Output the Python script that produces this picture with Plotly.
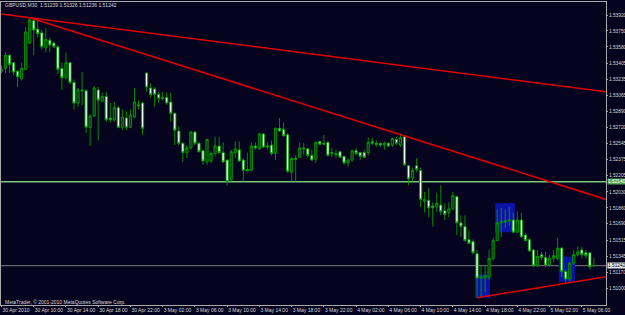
import plotly.graph_objects as go

# ---------------- data ----------------
symbol_header = "GBPUSD,M30  1.51239 1.51326 1.51236 1.51242"
copyright_text = "MetaTrader, \u00a9 2001-2010 MetaQuotes Software Corp."

opens = [
    1.5332, 1.5335, 1.5349, 1.5341, 1.5332, 1.5324, 1.5334, 1.5362, 1.5386, 1.5377,
    1.5373, 1.5357, 1.5365, 1.5362, 1.5358, 1.5335, 1.5325, 1.5341, 1.5320, 1.5298,
    1.5312, 1.5311, 1.5272, 1.5284, 1.5312, 1.5300, 1.5305, 1.5282, 1.5280, 1.5293,
    1.5272, 1.5282, 1.5272, 1.5283, 1.5296, 1.5298, 1.5330, 1.5314, 1.5313, 1.5307,
    1.5304, 1.5304, 1.5299, 1.5287, 1.5268, 1.5255, 1.5245, 1.5250, 1.5267, 1.5255,
    1.5247, 1.5235, 1.5236, 1.5244, 1.5252, 1.5245, 1.5237, 1.5216, 1.5245, 1.5248,
    1.5237, 1.5227, 1.5226, 1.5252, 1.5249, 1.5265, 1.5252, 1.5253, 1.5244, 1.5271,
    1.5270, 1.5264, 1.5224, 1.5239, 1.5240, 1.5250, 1.5249, 1.5242, 1.5238, 1.5257,
    1.5255, 1.5256, 1.5245, 1.5244, 1.5246, 1.5241, 1.5234, 1.5237, 1.5247, 1.5245,
    1.5245, 1.5245, 1.5257, 1.5255, 1.5255, 1.5253, 1.5255, 1.5253, 1.5259, 1.5253,
    1.5262, 1.5231, 1.5218, 1.5231, 1.5226, 1.5193, 1.5194, 1.5188, 1.5187, 1.5189,
    1.5183, 1.5181, 1.5185, 1.5198, 1.5170, 1.5166, 1.5152, 1.5150, 1.5137, 1.5111,
    1.5111, 1.5112, 1.5132, 1.5151, 1.5170, 1.5171, 1.5172, 1.5173, 1.5160, 1.5173,
    1.5157, 1.5152, 1.5141, 1.5124, 1.5136, 1.5133, 1.5125, 1.5132, 1.5132, 1.5143,
    1.5118, 1.5110, 1.5127, 1.5136, 1.5141, 1.5138, 1.5138, 1.51239,
]
highs = [
    1.5338, 1.5352, 1.5350, 1.5342, 1.5333, 1.5341, 1.5379, 1.5389, 1.5388, 1.5386,
    1.5376, 1.5378, 1.5368, 1.5364, 1.5360, 1.5341, 1.5352, 1.5342, 1.5323, 1.5314,
    1.5331, 1.5313, 1.5286, 1.5316, 1.5315, 1.5309, 1.5310, 1.5298, 1.5299, 1.5295,
    1.5291, 1.5289, 1.5291, 1.5314, 1.5301, 1.5299, 1.5331, 1.5319, 1.5315, 1.5310,
    1.5310, 1.5309, 1.5309, 1.5288, 1.5273, 1.5256, 1.5253, 1.5268, 1.5268, 1.5256,
    1.5248, 1.5260, 1.5246, 1.5262, 1.5262, 1.5256, 1.5238, 1.5248, 1.5257, 1.5257,
    1.5239, 1.5245, 1.5256, 1.5256, 1.5266, 1.5266, 1.5256, 1.5258, 1.5272, 1.5282,
    1.5277, 1.5266, 1.5240, 1.5242, 1.5256, 1.5255, 1.5250, 1.5248, 1.5257, 1.5258,
    1.5264, 1.5257, 1.5250, 1.5248, 1.5247, 1.5242, 1.5239, 1.5248, 1.5250, 1.5246,
    1.5248, 1.5261, 1.5261, 1.5258, 1.5256, 1.5257, 1.5256, 1.5261, 1.5262, 1.5264,
    1.5263, 1.5232, 1.5229, 1.5239, 1.5229, 1.5203, 1.5207, 1.5192, 1.5202, 1.5210,
    1.5191, 1.5192, 1.5203, 1.5199, 1.5178, 1.5178, 1.5162, 1.5152, 1.5141, 1.5125,
    1.5125, 1.5141, 1.5154, 1.5184, 1.5186, 1.5184, 1.5187, 1.5181, 1.5182, 1.5181,
    1.5159, 1.5154, 1.5142, 1.5141, 1.5139, 1.5139, 1.5136, 1.5141, 1.5154, 1.5144,
    1.5120, 1.5128, 1.5141, 1.5145, 1.5144, 1.5141, 1.5139, 1.51326,
]
lows = [
    1.5330, 1.5330, 1.5330, 1.5328, 1.5315, 1.5322, 1.5333, 1.5361, 1.5349, 1.5368,
    1.5355, 1.5352, 1.5352, 1.5357, 1.5329, 1.5312, 1.5323, 1.5318, 1.5291, 1.5294,
    1.5296, 1.5266, 1.5252, 1.5283, 1.5258, 1.5299, 1.5278, 1.5277, 1.5278, 1.5271,
    1.5269, 1.5269, 1.5271, 1.5282, 1.5291, 1.5264, 1.5310, 1.5304, 1.5294, 1.5298,
    1.5301, 1.5296, 1.5278, 1.5253, 1.5253, 1.5235, 1.5239, 1.5248, 1.5253, 1.5245,
    1.5232, 1.5232, 1.5234, 1.5241, 1.5243, 1.5234, 1.5210, 1.5214, 1.5239, 1.5235,
    1.5214, 1.5224, 1.5225, 1.5248, 1.5248, 1.5250, 1.5248, 1.5242, 1.5237, 1.5267,
    1.5262, 1.5223, 1.5214, 1.5214, 1.5239, 1.5242, 1.5240, 1.5236, 1.5234, 1.5253,
    1.5253, 1.5241, 1.5240, 1.5239, 1.5239, 1.5232, 1.5230, 1.5235, 1.5242, 1.5237,
    1.5239, 1.5242, 1.5253, 1.5251, 1.5251, 1.5248, 1.5251, 1.5251, 1.5253, 1.5251,
    1.5231, 1.5210, 1.5214, 1.5224, 1.5187, 1.5181, 1.5176, 1.5166, 1.5182, 1.5178,
    1.5173, 1.5176, 1.5184, 1.5157, 1.5155, 1.5150, 1.5147, 1.5136, 1.5090, 1.5090,
    1.5096, 1.5109, 1.5130, 1.5150, 1.5155, 1.5165, 1.5167, 1.5159, 1.5159, 1.5154,
    1.5150, 1.5139, 1.5123, 1.5123, 1.5130, 1.5123, 1.5123, 1.5128, 1.5130, 1.5112,
    1.5106, 1.5107, 1.5125, 1.5134, 1.5132, 1.5132, 1.5120, 1.51236,
]
closes = [
    1.5334, 1.5349, 1.5339, 1.5331, 1.5326, 1.5335, 1.5374, 1.5387, 1.5376, 1.5372,
    1.5358, 1.5366, 1.5360, 1.5358, 1.5334, 1.5325, 1.5341, 1.5320, 1.5298, 1.5312,
    1.5311, 1.5272, 1.5284, 1.5314, 1.5301, 1.5305, 1.5280, 1.5280, 1.5293, 1.5272,
    1.5283, 1.5272, 1.5285, 1.5299, 1.5295, 1.5271, 1.5315, 1.5307, 1.5307, 1.5303,
    1.5303, 1.5298, 1.5287, 1.5269, 1.5255, 1.5245, 1.5250, 1.5267, 1.5255, 1.5246,
    1.5236, 1.5259, 1.5244, 1.5252, 1.5245, 1.5235, 1.5214, 1.5246, 1.5249, 1.5236,
    1.5226, 1.5226, 1.5252, 1.5250, 1.5265, 1.5251, 1.5251, 1.5244, 1.5271, 1.5268,
    1.5263, 1.5225, 1.5239, 1.5238, 1.5250, 1.5249, 1.5242, 1.5237, 1.5256, 1.5254,
    1.5254, 1.5242, 1.5244, 1.5243, 1.5240, 1.5234, 1.5237, 1.5247, 1.5244, 1.5241,
    1.5240, 1.5256, 1.5255, 1.5254, 1.5253, 1.5255, 1.5252, 1.5260, 1.5255, 1.5261,
    1.5232, 1.5217, 1.5226, 1.5227, 1.5195, 1.5195, 1.5186, 1.5186, 1.5191, 1.5182,
    1.5179, 1.5185, 1.5199, 1.5170, 1.5166, 1.5151, 1.5148, 1.5138, 1.5111, 1.5112,
    1.5114, 1.5132, 1.5151, 1.5170, 1.5171, 1.5172, 1.5173, 1.5160, 1.5173, 1.5155,
    1.5151, 1.5140, 1.5124, 1.5134, 1.5133, 1.5125, 1.5132, 1.5135, 1.5143, 1.5118,
    1.5110, 1.5127, 1.5136, 1.5139, 1.5136, 1.5135, 1.5123, 1.51242,
]
assert len(opens) == len(highs) == len(lows) == len(closes)
bars = list(range(len(opens)))  # bar index (30-minute bars, weekend bars absent)

time_tick_bars = [0, 8, 16, 24, 32, 40, 48, 56, 64, 72, 80, 88, 96, 104, 112, 120, 128, 136, 144]
time_tick_labels = [
    "30 Apr 2010", "30 Apr 10:00", "30 Apr 14:00", "30 Apr 18:00", "30 Apr 22:00",
    "3 May 02:00", "3 May 06:00", "3 May 10:00", "3 May 14:00", "3 May 18:00",
    "3 May 22:00", "4 May 02:00", "4 May 06:00", "4 May 10:00", "4 May 14:00",
    "4 May 18:00", "4 May 22:00", "5 May 02:00", "5 May 06:00",
]
price_tick_labels = [
    "1.53920", "1.53750", "1.53580", "1.53405", "1.53235", "1.53065", "1.52890",
    "1.52720", "1.52545", "1.52375", "1.52205", "1.52030", "1.51860", "1.51690",
    "1.51515", "1.51345", "1.51170", "1.51000", "1.50820",
]
price_tick_values = [float(s) for s in price_tick_labels]

# trend lines: (bar, price) end points
trend_upper_x = [-0.12, 150.0]
trend_upper_y = [1.5393, 1.5310]
trend_mid_x = [7, 150.0]
trend_mid_y = [1.5389, 1.5195]
trend_low_x = [118, 150.0]
trend_low_y = [1.5090, 1.51124]

horizontal_level = 1.52140
bid_price = 1.51242

# rectangles: (bar0, bar1, price0, price1)
rect_x0 = [117.5, 122.5, 138.3]
rect_x1 = [121.2, 127.4, 142.3]
rect_y0 = [1.5090, 1.5160, 1.5107]
rect_y1 = [1.5115, 1.5191, 1.5134]

# ---------------- styling ----------------
BG = "#05031e"
FG = "#d8d8d8"
FRAME = "#a8a8a8"
FONT = "Liberation Sans"
FS = 5

fig = go.Figure()

fig.add_trace(go.Candlestick(
    x=bars, open=opens, high=highs, low=lows, close=closes,
    increasing=dict(line=dict(color="#009c00", width=0.9), fillcolor="#073a07"),
    decreasing=dict(line=dict(color="#009c00", width=0.9), fillcolor="#f4fff4"),
    whiskerwidth=0, showlegend=False, hoverinfo="skip",
))

for xs, ys in [(trend_upper_x, trend_upper_y), (trend_mid_x, trend_mid_y), (trend_low_x, trend_low_y)]:
    fig.add_trace(go.Scatter(x=xs, y=ys, mode="lines",
                             line=dict(color="#e00000", width=1.5),
                             showlegend=False, hoverinfo="skip"))

shapes = []
for x0, x1, y0, y1 in zip(rect_x0, rect_x1, rect_y0, rect_y1):
    shapes.append(dict(type="rect", xref="x", yref="y", x0=x0, x1=x1, y0=y0, y1=y1,
                       fillcolor="#0c12a8", line=dict(width=0), layer="below"))
shapes.append(dict(type="line", xref="paper", yref="y", x0=0, x1=1,
                   y0=horizontal_level, y1=horizontal_level,
                   line=dict(color="#78c878", width=1.5), layer="below"))
shapes.append(dict(type="line", xref="paper", yref="y", x0=0, x1=1,
                   y0=bid_price, y1=bid_price,
                   line=dict(color="#7a7a7a", width=1), layer="below"))

annotations = [
    dict(text=symbol_header, xref="paper", yref="paper", x=0.004, y=0.99,
         xanchor="left", yanchor="middle", showarrow=False,
         font=dict(family=FONT, size=FS, color=FG)),
    dict(text=copyright_text, xref="paper", yref="paper", x=0.004, y=0.01,
         xanchor="left", yanchor="middle", showarrow=False,
         font=dict(family=FONT, size=FS, color=FG)),
    dict(text=f"{horizontal_level:.5f}", xref="paper", yref="y", x=1, xshift=1,
         y=horizontal_level, xanchor="left", yanchor="middle", showarrow=False,
         bgcolor="#5aa65a", borderpad=0,
         font=dict(family=FONT, size=4.8, color="#ffffff")),
    dict(text=f"{bid_price:.5f}", xref="paper", yref="y", x=1, xshift=1,
         y=bid_price, xanchor="left", yanchor="middle", showarrow=False,
         bgcolor="#e8e8e8", borderpad=0,
         font=dict(family=FONT, size=4.8, color="#000000")),
]

fig.update_layout(
    width=625, height=315,
    margin=dict(l=1, r=19, t=2, b=10),
    paper_bgcolor=BG, plot_bgcolor=BG,
    shapes=shapes, annotations=annotations,
    showlegend=False, boxgap=0.2,
    xaxis=dict(
        range=[-0.12, 150.0], rangeslider=dict(visible=False),
        tickvals=time_tick_bars, ticktext=time_tick_labels,
        ticklabelposition="outside right", tickangle=0,
        ticks="outside", ticklen=1, tickcolor=FRAME,
        tickfont=dict(family=FONT, size=FS, color=FG),
        showgrid=False, zeroline=False,
        showline=True, mirror=True, linecolor=FRAME, linewidth=1,
        automargin=False,
    ),
    yaxis=dict(
        side="right", range=[1.50822, 1.54059],
        tickvals=price_tick_values, ticktext=price_tick_labels,
        ticks="outside", ticklen=1, tickcolor=FRAME,
        tickfont=dict(family=FONT, size=4.8, color=FG),
        showgrid=False, zeroline=False,
        showline=True, mirror=True, linecolor=FRAME, linewidth=1,
        automargin=False,
    ),
)

fig.write_html("out.html")
